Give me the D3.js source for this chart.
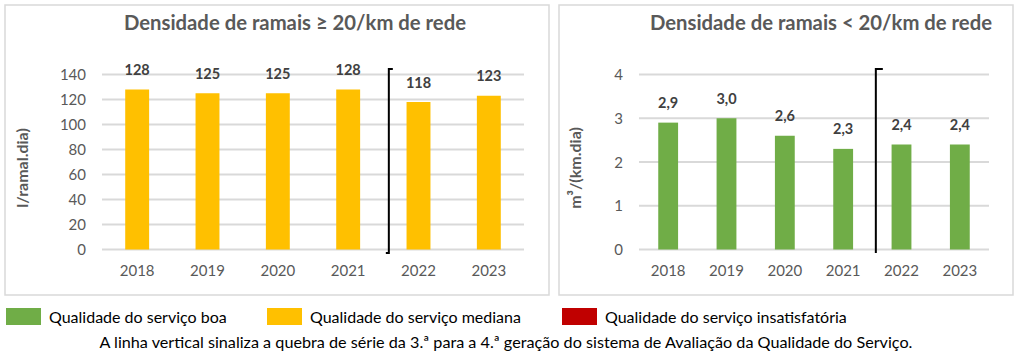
<!DOCTYPE html>
<html><head><meta charset="utf-8">
<script src="https://cdn.jsdelivr.net/npm/d3@7"></script>
<style>body{margin:0;background:#fff}svg{display:block}text{font-family:Lato,"Open Sans",sans-serif}</style>
</head><body>
<svg id="c" width="1019" height="355"></svg>
<script>
const years = ["2018","2019","2020","2021","2022","2023"];
const valuesHigh = [128,125,125,128,118,123];
const valuesLow = [2.9,3.0,2.6,2.3,2.4,2.4];
const ticksHigh = [0,20,40,60,80,100,120,140];
const ticksLow = [0,1,2,3,4];
const titles = ["Densidade de ramais \u2265 20/km de rede","Densidade de ramais < 20/km de rede"];
const yLabels = ["l/ramal.dia)","m\u00B3/(km.dia)"];
const legendItems = ["Qualidade do servi\u00E7o boa","Qualidade do servi\u00E7o mediana","Qualidade do servi\u00E7o insatisfat\u00F3ria"];
const legendColors = ["#70AD47","#FFC000","#C00000"];
const footnote = "A linha vertical sinaliza a quebra de s\u00E9rie da 3.\u00AA para a 4.\u00AA gera\u00E7\u00E3o do sistema de Avalia\u00E7\u00E3o da Qualidade do Servi\u00E7o.";
const breakAfter = "2021";

const svg = d3.select("#c");
const grey = "#595959";

function panel(cfg){
  const g = svg.append("g");
  g.append("rect").attr("x",cfg.box[0]).attr("y",cfg.box[1]).attr("width",cfg.box[2]).attr("height",cfg.box[3])
    .attr("fill","#fff").attr("stroke","#d9d9d9").attr("stroke-width",1.5);
  const x = d3.scaleBand().domain(years).range(cfg.xr).paddingInner(0.66).paddingOuter(0.33);
  const y = d3.scaleLinear().domain(cfg.dom).range([249.5,74.5]);
  g.append("g").selectAll("line").data(cfg.ticks).join("line")
    .attr("x1",cfg.xr[0]).attr("x2",cfg.xr[1]).attr("y1",d=>y(d)).attr("y2",d=>y(d))
    .attr("stroke","#d9d9d9").attr("stroke-width",2);
  const ya = g.append("g").attr("transform",`translate(${cfg.xr[0]-16},0)`)
    .call(d3.axisLeft(y).tickValues(cfg.ticks).tickSize(0).tickPadding(0).tickFormat(d3.format("d")));
  ya.select(".domain").remove();
  ya.selectAll("text").attr("font-size",15).attr("fill",grey).attr("font-family","Lato").attr("dy","0.34em");
  const xa = g.append("g").attr("transform",`translate(0,249.5)`)
    .call(d3.axisBottom(x).tickSize(0).tickPadding(16));
  xa.select(".domain").remove();
  xa.selectAll("text").attr("font-size",15).attr("fill",grey).attr("font-family","Lato");
  g.append("g").selectAll("rect").data(cfg.values).join("rect")
    .attr("x",(d,i)=>x(years[i])).attr("width",x.bandwidth())
    .attr("y",d=>y(d)).attr("height",d=>y(0)-y(d)).attr("fill",cfg.color);
  g.append("g").selectAll("text").data(cfg.values).join("text")
    .attr("x",(d,i)=>x(years[i])+x.bandwidth()/2).attr("y",d=>y(d)-14.5)
    .attr("text-anchor","middle").attr("font-size",14.5).attr("font-weight","bold").attr("fill","#404040")
    .text(d=>cfg.fmt(d));
  g.append("text").attr("x",cfg.titleX).attr("y",30).attr("text-anchor","middle")
    .attr("font-size",20.3).attr("font-weight","bold").attr("fill",grey).text(cfg.title);
  g.append("text").attr("transform",`translate(${cfg.ylx},168) rotate(-90)`).attr("text-anchor","middle")
    .attr("font-size",16).attr("font-weight","bold").attr("fill",grey).attr("dy","0.35em").text(cfg.ylabel);
  const xb = x.range()[0] + x.step()*(years.indexOf(breakAfter)+1) + cfg.bOff;
  const p = `M${xb+cfg.tTop},69 H${xb} V253` + (cfg.tBot? ` H${xb-cfg.tBot}`:"");
  g.append("path").attr("d",p).attr("fill","none").attr("stroke","#000").attr("stroke-width",2);
}

panel({box:[5,5,544,290], xr:[102,524], dom:[0,140], ticks:ticksHigh, values:valuesHigh, color:"#FFC000",
  fmt:d3.format("d"), title:titles[0], titleX:295, ylabel:yLabels[0], ylx:22, bOff:5.5, tTop:4, tBot:3});
panel({box:[559,5,454,290], xr:[639,989], dom:[0,4], ticks:ticksLow, values:valuesLow, color:"#70AD47",
  fmt:d=>d3.format(".1f")(d).replace(".",","), title:titles[1], titleX:821, ylabel:yLabels[1], ylx:575, bOff:3.5, tTop:7, tBot:0});

const legX = [6,267,562];
const lg = svg.append("g");
legendItems.forEach((t,i)=>{
  lg.append("rect").attr("x",legX[i]).attr("y",308).attr("width",35).attr("height",17).attr("fill",legendColors[i]);
  lg.append("text").attr("x",legX[i]+43).attr("y",322.5).attr("font-size",16).attr("fill","#000").text(t);
});
svg.append("text").attr("x",506).attr("y",347.5).attr("text-anchor","middle").attr("font-size",16.2)
  .attr("fill","#000").text(footnote);
</script>
</body></html>
